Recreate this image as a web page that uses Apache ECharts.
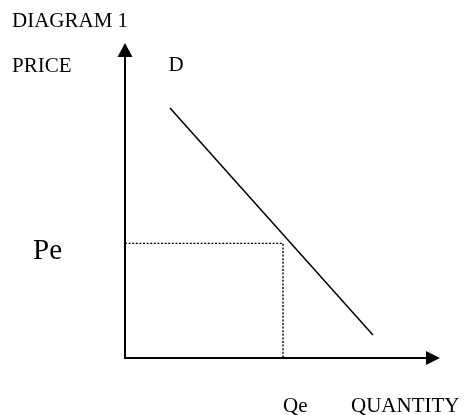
<!DOCTYPE html>
<html>
<head>
<meta charset="utf-8">
<script src="https://cdn.jsdelivr.net/npm/echarts@6/dist/echarts.min.js"></script>
<style>
  html, body { margin: 0; padding: 0; background: #fff; }
  #chart { width: 466px; height: 415px; }
</style>
</head>
<body>
<div id="chart"></div>
<script>
// demand curve end points (quantity, price)
const demandQty = [1.46, 8.05]
const demandPrice = [8.12, 0.75]
// equilibrium guides
const pe = 3.72
const qe = 5.13
const peLabel = 'Pe'
const qeLabel = 'Qe'

const serif = '"Liberation Serif", "Times New Roman", serif'

const chart = echarts.init(document.getElementById('chart'))

const demandData = demandQty.map((q, i) => [q, demandPrice[i]])
const guideData = [[0, pe], [qe, pe], [qe, 0]]

const option = {
  animation: false,
  grid: {
    left: 125,
    right: 33,
    top: 50,
    bottom: 57,
    outerBoundsMode: 'none'
  },
  xAxis: {
    type: 'value',
    min: 0,
    max: 10,
    splitLine: { show: false },
    axisTick: { show: false },
    axisLine: {
      onZero: false,
      symbol: ['none', 'triangle'],
      symbolSize: [14, 14],
      lineStyle: { color: '#000', width: 2 }
    },
    axisLabel: {
      customValues: [qe],
      formatter: () => qeLabel,
      align: 'left',
      margin: 38,
      color: '#000',
      fontSize: 21,
      fontFamily: serif
    }
  },
  yAxis: {
    type: 'value',
    min: 0,
    max: 10,
    splitLine: { show: false },
    axisTick: { show: false },
    axisLine: {
      onZero: false,
      symbol: ['none', 'triangle'],
      symbolSize: [15, 14],
      lineStyle: { color: '#000', width: 2 }
    },
    axisLabel: {
      customValues: [pe],
      formatter: () => peLabel,
      margin: 63,
      verticalAlign: 'top',
      lineHeight: 16,
      color: '#000',
      fontSize: 29,
      fontFamily: serif
    }
  },
  graphic: [
    { type: 'text', left: 12, top: 11, style: { text: 'DIAGRAM 1', fill: '#000', font: '21px ' + serif } },
    { type: 'text', left: 12, top: 56, style: { text: 'PRICE', fill: '#000', font: '21px ' + serif } },
    { type: 'text', left: 351, top: 396, style: { text: 'QUANTITY', fill: '#000', font: '21px ' + serif } }
  ],
  series: [
    {
      type: 'line',
      data: guideData,
      symbol: 'none',
      silent: true,
      lineStyle: { color: '#000', width: 1.4, type: [2, 1.6] }
    },
    {
      type: 'line',
      data: demandData.map((d, i) => i === 0 ? {
        value: d,
        label: {
          show: true,
          formatter: 'D',
          position: 'top',
          offset: [6, -27],
          color: '#000',
          fontSize: 21,
          fontFamily: serif
        }
      } : d),
      symbol: 'circle',
      symbolSize: 0,
      showSymbol: true,
      lineStyle: { color: '#000', width: 1.5 }
    }
  ]
}

chart.setOption(option)
</script>
</body>
</html>
